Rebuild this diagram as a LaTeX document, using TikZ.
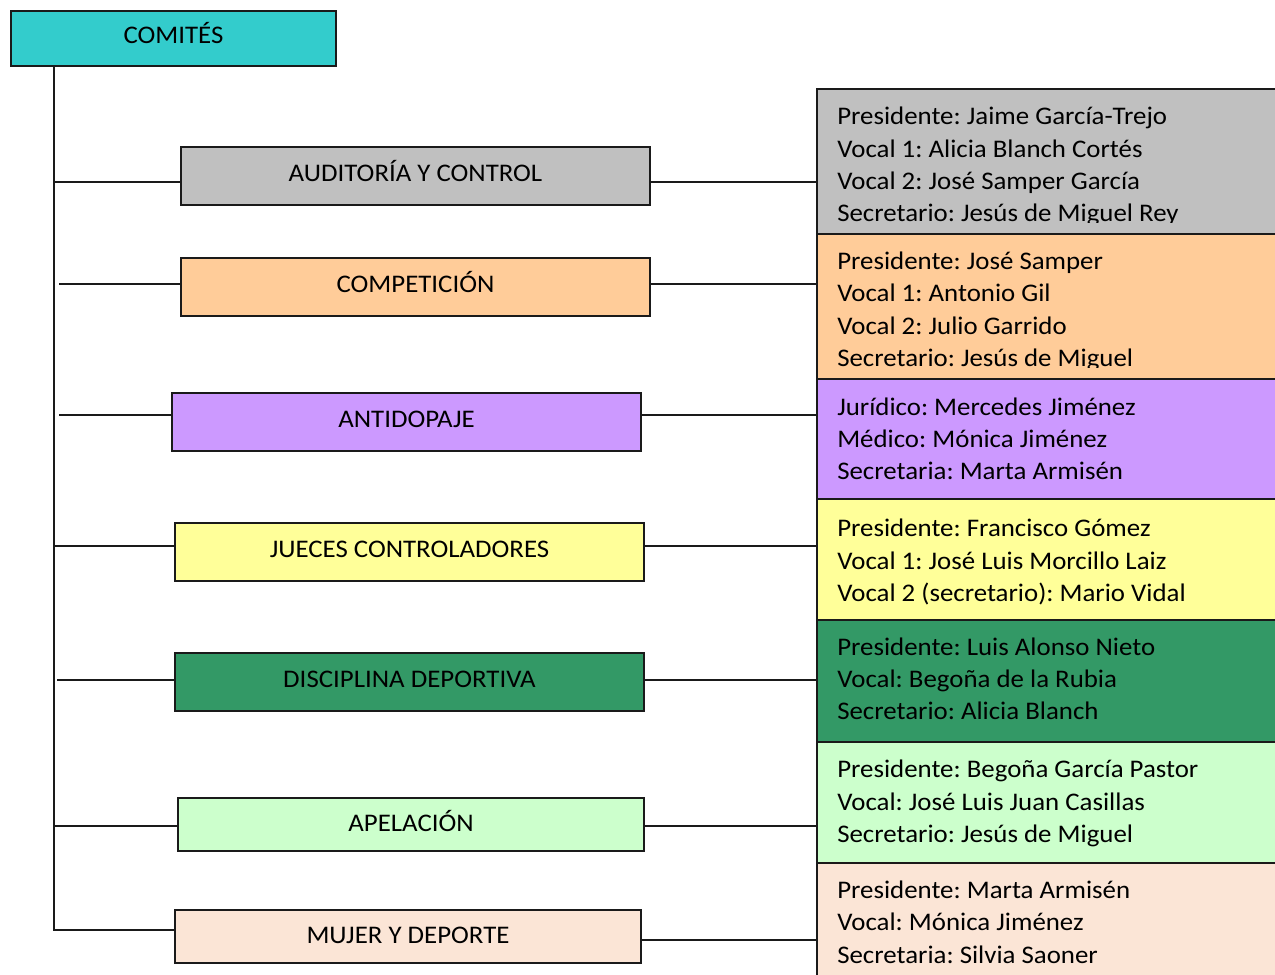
\documentclass[tikz,border=0pt]{standalone}
\usepackage{fontspec}
\setmainfont{Carlito}[FakeStretch=1.06]
\frenchspacing
\definecolor{lc}{HTML}{1A1A1A}
\definecolor{cTeal}{HTML}{33CCCC}
\definecolor{cGray}{HTML}{C0C0C0}
\definecolor{cOrange}{HTML}{FFCC99}
\definecolor{cPurple}{HTML}{CC99FF}
\definecolor{cYellow}{HTML}{FFFF99}
\definecolor{cGreen}{HTML}{339966}
\definecolor{cLGreen}{HTML}{CCFFCC}
\definecolor{cPeach}{HTML}{FBE5D6}
\begin{document}
\begin{tikzpicture}[x=0.75pt,y=-0.75pt,
  lbox/.style={draw=lc, line width=1.5pt, inner sep=0pt, anchor=north west,
    font=\fontsize{19pt}{23pt}\selectfont, text=black, text height=0.82em, text depth=0pt},
  lowtext/.style={text height=1.05em},
  rbox/.style={draw=lc, line width=1.5pt, inner sep=0pt, anchor=north west,
    minimum width={469*0.75pt}},
  txt/.style={anchor=base west, inner sep=0pt, font=\fontsize{19pt}{23pt}\selectfont, text=black},
  conn/.style={draw=lc, line width=1.5pt}]
\clip (0,0) rectangle (1275,975);
\fill[white] (0,0) rectangle (1275,975);

% root
\node[lbox, fill=cTeal, minimum width={325*0.75pt}, minimum height={55*0.75pt}] (root) at (10,10) {COMITÉS};

% left boxes
\node[lbox, fill=cGray, minimum width={469*0.75pt}, minimum height={58*0.75pt}] (aud) at (180,146) {AUDITORÍA Y CONTROL};
\node[lbox, fill=cOrange, minimum width={469*0.75pt}, minimum height={58*0.75pt}] (comp) at (180,257) {COMPETICIÓN};
\node[lbox, fill=cPurple, minimum width={469*0.75pt}, minimum height={58*0.75pt}] (anti) at (171,392) {ANTIDOPAJE};
\node[lbox, fill=cYellow, minimum width={469*0.75pt}, minimum height={58*0.75pt}] (jue) at (174,522) {JUECES CONTROLADORES};
\node[lbox, fill=cGreen, minimum width={469*0.75pt}, minimum height={58*0.75pt}] (dis) at (174,652) {DISCIPLINA DEPORTIVA};
\node[lbox, lowtext, fill=cLGreen, minimum width={466*0.75pt}, minimum height={53*0.75pt}] (ape) at (177,797) {APELACIÓN};
\node[lbox, lowtext, fill=cPeach, minimum width={466*0.75pt}, minimum height={53*0.75pt}] (muj) at (174,909) {MUJER Y DEPORTE};

% right boxes
\node[rbox, fill=cGray, minimum height={145*0.75pt}] (raud) at (816,88) {};
\node[rbox, fill=cOrange, minimum height={145*0.75pt}] (rcomp) at (816,233) {};
\node[rbox, fill=cPurple, minimum height={120*0.75pt}] (ranti) at (816,378) {};
\node[rbox, fill=cYellow, minimum height={121*0.75pt}] (rjue) at (816,498) {};
\node[rbox, fill=cGreen, minimum height={122*0.75pt}] (rdis) at (816,619) {};
\node[rbox, fill=cLGreen, minimum height={121*0.75pt}] (rape) at (816,741) {};
\node[rbox, fill=cPeach, minimum height={130*0.75pt}] (rmuj) at (816,862) {};

% texts
\begin{scope}
\clip (816,88) rectangle (1275,222);
\node[txt] (a1) at (837,124) {Presidente: Jaime García-Trejo};
\node[txt] (a2) at (837,157) {Vocal 1: Alicia Blanch Cortés};
\node[txt] (a3) at (837,189) {Vocal 2: José Samper García};
\node[txt] (a4) at (837,221) {Secretario: Jesús de Miguel Rey};
\end{scope}
\begin{scope}
\clip (816,233) rectangle (1275,367);
\node[txt] (c1) at (837,269) {Presidente: José Samper};
\node[txt] (c2) at (837,301.5) {Vocal 1: Antonio Gil};
\node[txt] (c3) at (837,334) {Vocal 2: Julio Garrido};
\node[txt] (c4) at (837,366) {Secretario: Jesús de Miguel};
\end{scope}
\node[txt] (d1) at (837,415) {Jurídico: Mercedes Jiménez};
\node[txt] (d2) at (837,447) {Médico: Mónica Jiménez};
\node[txt] (d3) at (837,479) {Secretaria: Marta Armisén};
\node[txt] (j1) at (837,536.5) {Presidente: Francisco Gómez};
\node[txt] (j2) at (837,569) {Vocal 1: José Luis Morcillo Laiz};
\node[txt] (j3) at (837,601) {Vocal 2 (secretario): Mario Vidal};
\node[txt] (g1) at (837,655) {Presidente: Luis Alonso Nieto};
\node[txt] (g2) at (837,687.5) {Vocal: Begoña de la Rubia};
\node[txt] (g3) at (837,719.5) {Secretario: Alicia Blanch};
\node[txt] (p1) at (837,777.5) {Presidente: Begoña García Pastor};
\node[txt] (p2) at (837,810) {Vocal: José Luis Juan Casillas};
\node[txt] (p3) at (837,842) {Secretario: Jesús de Miguel};
\node[txt] (m1) at (837,898) {Presidente: Marta Armisén};
\node[txt] (m2) at (837,930.5) {Vocal: Mónica Jiménez};
\node[txt] (m3) at (837,963) {Secretaria: Silvia Saoner};

% trunk
\coordinate (tk) at (54,930);
\draw[conn] (root.south west -| tk) -- (tk) -- (muj.west |- tk);
\draw[conn] (aud.west |- 0,182) -- (54,182);
\draw[conn] (comp.west |- 0,284) -- (59,284);
\draw[conn] (anti.west |- 0,415) -- (59,415);
\draw[conn] (jue.west |- 0,546) -- (54,546);
\draw[conn] (dis.west |- 0,680) -- (57,680);
\draw[conn] (ape.west |- 0,826) -- (54,826);

% right connectors
\draw[conn] (aud.east |- 0,182) -- (raud.west |- 0,182);
\draw[conn] (comp.east |- 0,284) -- (rcomp.west |- 0,284);
\draw[conn] (anti.east |- 0,415) -- (ranti.west |- 0,415);
\draw[conn] (jue.east |- 0,546) -- (rjue.west |- 0,546);
\draw[conn] (dis.east |- 0,680) -- (rdis.west |- 0,680);
\draw[conn] (ape.east |- 0,826) -- (rape.west |- 0,826);
\draw[conn] (muj.east |- 0,940) -- (rmuj.west |- 0,940);
\end{tikzpicture}
\end{document}
